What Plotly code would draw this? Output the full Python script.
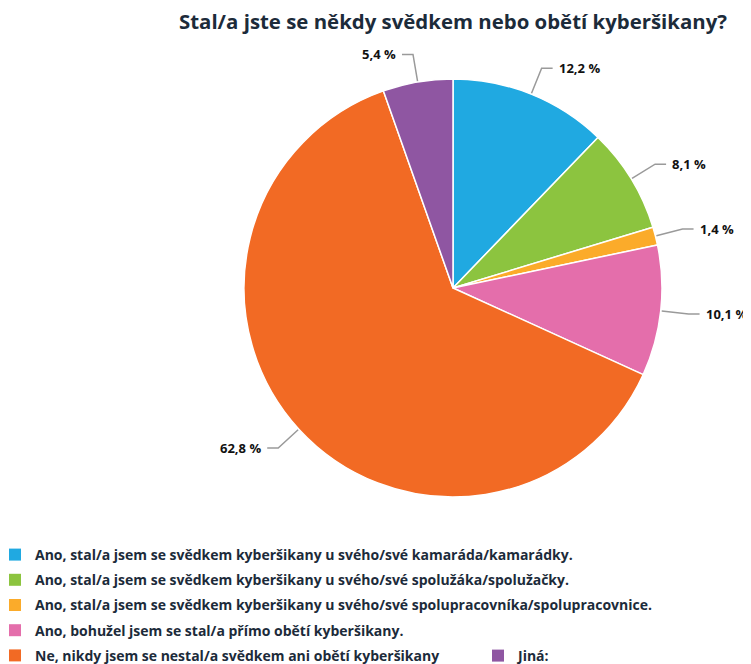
import numpy as np
import plotly.graph_objects as go

# data
labels = [
    "Ano, stal/a jsem se svědkem kyberšikany u svého/své kamaráda/kamarádky.",
    "Ano, stal/a jsem se svědkem kyberšikany u svého/své spolužáka/spolužačky.",
    "Ano, stal/a jsem se svědkem kyberšikany u svého/své spolupracovníka/spolupracovnice.",
    "Ano, bohužel jsem se stal/a přímo obětí kyberšikany.",
    "Ne, nikdy jsem se nestal/a svědkem ani obětí kyberšikany",
    "Jiná:",
]
values = [12.2, 8.1, 1.4, 10.1, 62.8, 5.4]
colors = ["#20a9e1", "#8cc43f", "#fbab2a", "#e46eab", "#f26a24", "#8f56a2"]
title = "Stal/a jste se někdy svědkem nebo obětí kyberšikany?"

# page has an 8px body margin, so the figure is drawn that much smaller
PAD = 8
W, H = 751 - PAD, 664 - PAD
cx, cy, r = 453 - PAD, 288 - PAD, 209
FONT = "Open Sans"
TXT = "#1c2b3a"

fig = go.Figure()
fig.add_trace(go.Pie(
    labels=labels, values=values, sort=False, direction="clockwise", rotation=0,
    textinfo="none", showlegend=False,
    marker=dict(colors=colors, line=dict(color="white", width=1.5)),
    domain=dict(x=[(cx - r) / W, (cx + r) / W], y=[1 - (cy + r) / H, 1 - (cy - r) / H]),
))

# legend entries (dummy traces so that "Jiná:" can sit on its own legend)
for i, (lab, col) in enumerate(zip(labels, colors)):
    fig.add_trace(go.Scatter(
        x=[None], y=[None], mode="markers", name=lab, legendgroup=lab,
        legend="legend2" if i == len(labels) - 1 else "legend",
        marker=dict(symbol="square", size=12, color=col),
    ))

# percentage labels with leader lines
vals = np.array(values)
mids = (np.cumsum(vals) - vals / 2) / vals.sum() * 2 * np.pi
for v, a in zip(values, mids):
    ux, uy = np.sin(a), -np.cos(a)
    side = 1 if ux >= 0 else -1
    x0, y0 = cx + (r + 1) * ux, cy + (r + 1) * uy
    x1, y1 = cx + (r + 28) * ux, cy + (r + 28) * uy
    x2 = x1 + side * 11
    fig.add_shape(type="path", xref="x", yref="y",
                  path=f"M {x0} {y0} L {x1} {y1} L {x2} {y1}",
                  line=dict(color="#9a9a9a", width=1.5))
    fig.add_annotation(x=x2 + side * 4, y=y1, xref="x", yref="y",
                       text=f"{v:.1f}".replace(".", ",") + " %", showarrow=False,
                       xanchor="left" if side > 0 else "right", yanchor="middle",
                       font=dict(family=FONT, size=13, color="#111111", weight="bold"))

legend_font = dict(family=FONT, size=14, color=TXT, weight="bold")
fig.update_layout(
    width=W, height=H, margin=dict(l=0, r=0, t=0, b=0, autoexpand=False),
    paper_bgcolor="white", plot_bgcolor="white",
    title=dict(text=title, xref="paper", x=cx / W, xanchor="center",
               yref="container", y=1 - (22 - PAD) / H, yanchor="middle",
               font=dict(family=FONT, size=20.4, color=TXT, weight="bold")),
    xaxis=dict(range=[0, W], visible=False, fixedrange=True),
    yaxis=dict(range=[H, 0], visible=False, fixedrange=True),
    legend=dict(x=-13 / W, y=1 - (539 - PAD) / H, xanchor="left", yanchor="top",
                orientation="v", tracegroupgap=4, itemwidth=30,
                bgcolor="rgba(0,0,0,0)", font=legend_font),
    legend2=dict(x=(478 - PAD) / W, y=1 - (640 - PAD) / H, xanchor="left", yanchor="top",
                 orientation="v", itemwidth=30, bgcolor="rgba(0,0,0,0)", font=legend_font),
)

fig.write_html("out.html")
